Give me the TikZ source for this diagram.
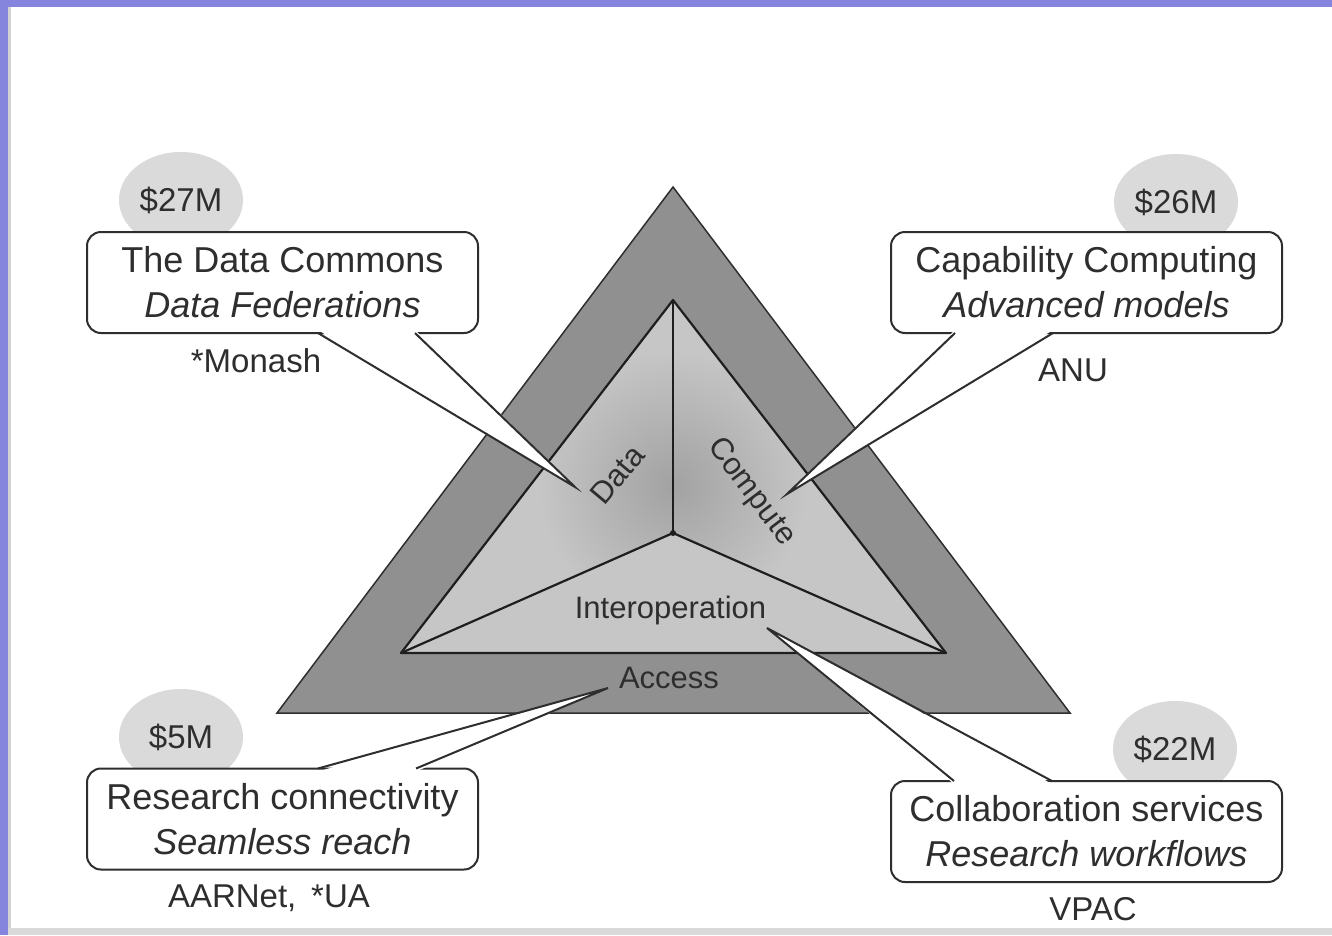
\documentclass[tikz,border=0pt]{standalone}
\usepackage{fontspec}
\setmainfont{Liberation Sans}
\usetikzlibrary{calc,shapes.geometric}
\definecolor{framepurple}{HTML}{8585DD}
\definecolor{outertri}{HTML}{909090}
\definecolor{innertri}{HTML}{C6C6C6}
\definecolor{innerdark}{HTML}{A2A2A2}
\definecolor{priceg}{HTML}{DADADA}
\definecolor{inkc}{HTML}{2E2E2E}
\definecolor{edgec}{HTML}{1E1E1E}
\tikzset{
  callout/.style={draw=inkc, line width=2pt, fill=white, rounded corners=14pt,
    minimum width=391pt, minimum height=101pt, align=center, inner sep=0pt, outer sep=0pt,
    font=\fontsize{36}{45}\selectfont, text=inkc},
  price/.style={ellipse, fill=priceg, minimum width=124pt, minimum height=96pt,
    inner sep=0pt, font=\fontsize{33}{40}\selectfont, text=inkc},
  lbl/.style={anchor=base, inner sep=0pt, font=\fontsize{33}{40}\selectfont, text=inkc},
  trilbl/.style={inner sep=0pt, font=\fontsize{31}{36}\selectfont, text=inkc},
  wedgefill/.style={fill=white},
  wedgeline/.style={draw=inkc, line width=2pt, line join=miter},
  triedge/.style={draw=edgec, line width=2.2pt, line join=round},
}
\begin{document}
\begin{tikzpicture}[x=1pt,y=-1pt]
\useasboundingbox (0,0) rectangle (1332,935);
% background and frame
\fill[white] (0,0) rectangle (1332,935);
\fill[framepurple] (0,0) rectangle (1332,7);
\fill[framepurple] (0,0) rectangle (8,935);
\fill[gray!35] (8,7) rectangle (11,935);
\fill[gray!30] (8,928) rectangle (1332,935);

% triangle geometry
\coordinate (OA) at (673,187);
\coordinate (OL) at (277,713);
\coordinate (OR) at (1070,713);
\coordinate (IA) at (673,300);
\coordinate (IL) at (401,653);
\coordinate (IR) at (946,653);
\coordinate (IC) at (673,533);

% outer triangle
\filldraw[fill=outertri, draw=inkc, line width=1.5pt, line join=miter] (OA) -- (OL) -- (OR) -- cycle;
% inner triangle
\fill[innertri] (IA) -- (IL) -- (IR) -- cycle;
\begin{scope}
  \clip (IA) -- (IL) -- (IC) -- (IR) -- cycle;
  \shade[inner color=innerdark, outer color=innertri] (673,485) circle (135pt);
\end{scope}
\draw[triedge] (IA) -- (IL) -- (IR) -- cycle;
\draw[triedge] (IC) -- (IA);
\draw[triedge] (IC) -- (IL);
\draw[triedge] (IC) -- (IR);
\fill[edgec] (IC) circle (3pt);

% triangle labels
\node[trilbl, rotate=50] (tdata) at (617,475) {Data};
\node[trilbl, rotate=-53] (tcomp) at (751,492) {Compute};
\node[trilbl, anchor=base] (tinter) at (670.5,618) {Interoperation};
\node[trilbl, anchor=base] (taccess) at (669,688) {Access};

% price ellipses
\node[price] (p27) at (181,200) {\$27M};
\node[price] (p26) at (1176,202) {\$26M};
\node[price] (p5) at (181,737) {\$5M};
\node[price] (p22) at (1175,749) {\$22M};

% callout boxes
\node[callout] (dc) at (282.5,282.5) {The Data Commons\\\textit{Data Federations}};
\node[callout] (cc) at (1086.5,282.5) {Capability Computing\\\textit{Advanced models}};
\node[callout] (rc) at (282.5,819) {Research connectivity\\\textit{Seamless reach}};
\node[callout] (cs) at (1086.5,831.5) {Collaboration services\\\textit{Research workflows}};

% wedge coordinates
\coordinate (dc-b1) at ($(dc.south west)+(231,0)$);
\coordinate (dc-b2) at ($(dc.south west)+(328,0)$);
\coordinate (dc-t) at (575,487);
\coordinate (cc-b1) at ($(cc.south west)+(64,0)$);
\coordinate (cc-b2) at ($(cc.south west)+(162,0)$);
\coordinate (cc-t) at (787,494);
\coordinate (rc-b1) at ($(rc.north west)+(231,0)$);
\coordinate (rc-b2) at ($(rc.north west)+(329,0)$);
\coordinate (rc-t) at (608,688);
\coordinate (cs-b1) at ($(cs.north west)+(63,0)$);
\coordinate (cs-b2) at ($(cs.north west)+(161,0)$);
\coordinate (cs-t) at (767,628);

% wedges
\fill[wedgefill] ($(dc-b1)+(0,-3)$) -- (dc-t) -- ($(dc-b2)+(0,-3)$) -- cycle;
\draw[wedgeline] (dc-b1) -- (dc-t) -- (dc-b2);
\fill[wedgefill] ($(cc-b1)+(0,-3)$) -- (cc-t) -- ($(cc-b2)+(0,-3)$) -- cycle;
\draw[wedgeline] (cc-b1) -- (cc-t) -- (cc-b2);
\fill[wedgefill] ($(rc-b1)+(0,3)$) -- (rc-t) -- ($(rc-b2)+(0,3)$) -- cycle;
\draw[wedgeline] (rc-b1) -- (rc-t) -- (rc-b2);
\fill[wedgefill] ($(cs-b1)+(0,3)$) -- (cs-t) -- ($(cs-b2)+(0,3)$) -- cycle;
\draw[wedgeline] (cs-b1) -- (cs-t) -- (cs-b2);

% partner labels
\node[lbl] (monash) at (256,372) {*Monash};
\node[lbl] (anu) at (1073,381) {ANU};
\node[lbl] (aarnet) at (269,907) {AARNet,\hspace{0.45em}*UA};
\node[lbl] (vpac) at (1093,920) {VPAC};
\end{tikzpicture}
\end{document}
